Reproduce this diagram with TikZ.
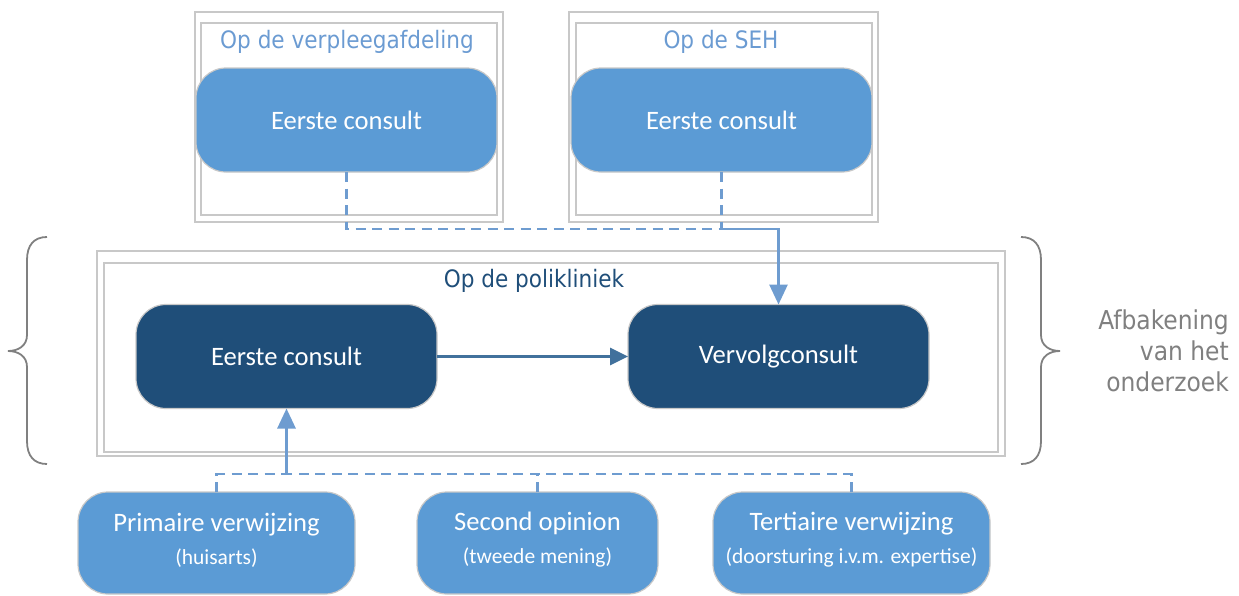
\documentclass[tikz,border=0pt]{standalone}
\usepackage{fontspec}
\setmainfont{Carlito}
\newfontfamily\tahoma{DejaVu Sans Condensed}
\usetikzlibrary{arrows.meta}
\definecolor{lightblue}{HTML}{5B9BD5}
\definecolor{darkblue}{HTML}{1F4E79}
\definecolor{connblue}{HTML}{6E9CD0}
\definecolor{arrowdark}{HTML}{41719C}
\definecolor{titleblue}{HTML}{6B9BD2}
\definecolor{framegray}{HTML}{C8C8C8}
\definecolor{bracegray}{HTML}{808080}
\begin{document}
\begin{tikzpicture}[x=1pt,y=-1pt,
  box/.style={rectangle, rounded corners=30pt, draw=framegray, line width=1.2pt,
    minimum width=301pt, minimum height=104pt, inner sep=0pt, outer sep=0pt,
    text=white, font=\fontsize{26.6}{30}\selectfont},
  lightbox/.style={box, fill=lightblue},
  darkbox/.style={box, fill=darkblue},
  container/.style={rectangle, draw=framegray, line width=1.3pt, inner sep=0pt, outer sep=0pt},
  ttl/.style={font=\tahoma\fontsize{24}{28}\selectfont, inner sep=0pt},
  subtext/.style={align=center, text=white, inner sep=0pt, font=\fontsize{21.5}{33}\selectfont},
  dashconn/.style={draw=connblue, line width=2.8pt, dash pattern=on 10pt off 6.5pt},
  solidconn/.style={draw=connblue, line width=2.8pt, -{Triangle[length=20pt,width=18pt]}},
  darkconn/.style={draw=arrowdark, line width=2.8pt, -{Triangle[length=18pt,width=17pt]}},
  bracestyle/.style={draw=bracegray, line width=1.8pt},
]
\useasboundingbox (0,0) rectangle (1239,595);

% containers
\node[container, minimum width=308pt, minimum height=210pt] (vpo) at (349,117) {};
\node[container, minimum width=296pt, minimum height=192pt] (vpi) at (349,119) {};
\node[container, minimum width=309pt, minimum height=210pt] (seho) at (723.5,117) {};
\node[container, minimum width=296pt, minimum height=192pt] (sehi) at (724,119) {};
\node[container, minimum width=908pt, minimum height=205pt] (polo) at (551,353.5) {};
\node[container, minimum width=894pt, minimum height=189pt] (poli) at (551,357.5) {};

% titles
\node[ttl, text=titleblue] (tvp) at (347,42) {Op de verpleegafdeling};
\node[ttl, text=titleblue] (tseh) at (721,42) {Op de SEH};
\node[ttl, text=darkblue] (tpoli) at (534,281) {Op de polikliniek};

% boxes
\node[lightbox] (vb) at (346.5,120) {Eerste consult};
\node[lightbox] (sb) at (721.5,120) {Eerste consult};
\node[darkbox] (pe) at (286.5,356.5) {Eerste consult};
\node[darkbox] (pv) at (778.5,356.5) {Vervolgconsult};

\node[lightbox, minimum width=277pt, minimum height=102pt] (prim) at (216.5,543) {};
\node[lightbox, minimum width=241pt, minimum height=102pt] (sec) at (537.5,543) {};
\node[lightbox, minimum width=277pt, minimum height=102pt] (tert) at (851.5,543) {};
\node[subtext] (primt) at (216.5,540) {{\fontsize{26.6}{33}\selectfont Primaire verwijzing}\\(huisarts)};
\node[subtext] (sect) at (537.5,540) {{\fontsize{26.6}{33}\selectfont Second opinion}\\(tweede mening)};
\node[subtext] (tertt) at (851.5,540) {{\fontsize{26.6}{33}\selectfont Tertiaire verwijzing}\\(doorsturing i.v.m. expertise)};

% connectors top
\coordinate (j1) at (721.5,229);
\draw[dashconn] (vb.south) |- (j1);
\draw[dashconn] (sb.south) -- (j1);
\draw[solidconn] (j1) -| (pv.north);

% middle
\draw[darkconn] (pe.east) -- (pv.west);

% bottom
\coordinate (j2) at (286.5,474);
\draw[dashconn] (prim.north) |- (j2);
\draw[dashconn] (tert.north) |- (j2);
\draw[dashconn] (sec.north) -- (sec.north |- j2);
\draw[solidconn] (j2) -- (pe.south);

% braces
\draw[bracestyle] (47,237) .. controls (34,237) and (27,245) .. (27,260) -- (27,335)
  .. controls (27,346) and (18,351) .. (8,351)
  .. controls (18,351) and (27,356) .. (27,367) -- (27,441)
  .. controls (27,456) and (34,464) .. (47,464);
\draw[bracestyle] (1021,237) .. controls (1034,237) and (1041,245) .. (1041,260) -- (1041,335)
  .. controls (1041,346) and (1050,351) .. (1060,351)
  .. controls (1050,351) and (1041,356) .. (1041,367) -- (1041,441)
  .. controls (1041,456) and (1034,464) .. (1021,464);

\node[anchor=east, align=right, text=bracegray, inner sep=0pt,
  font=\tahoma\fontsize{26}{31}\selectfont] (afb) at (1229,351) {Afbakening\\van het\\onderzoek};
\end{tikzpicture}
\end{document}
